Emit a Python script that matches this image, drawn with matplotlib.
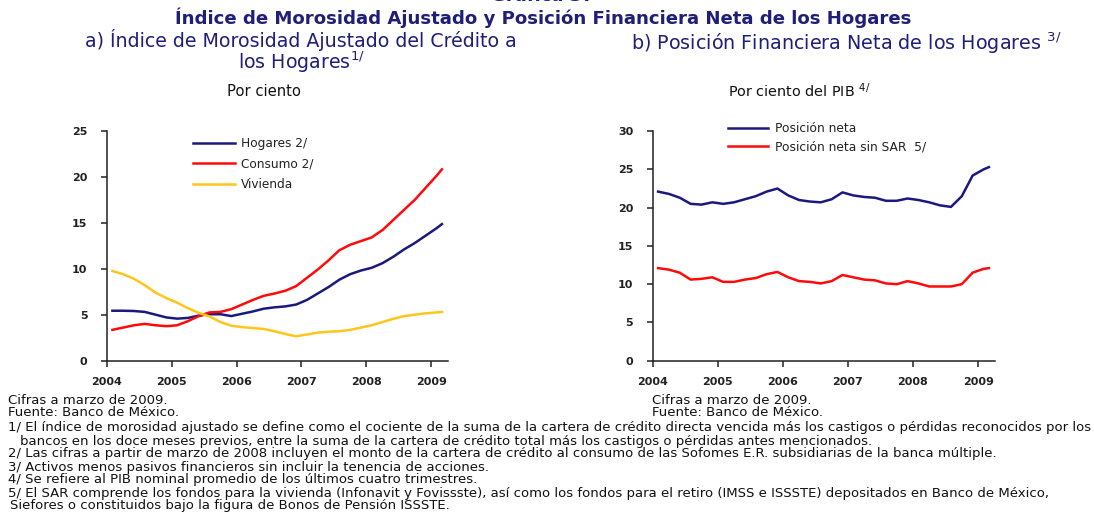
import matplotlib.pyplot as plt

plt.rcParams['font.family'] = ['DejaVu Sans']

# bimonthly dates (feb 2004 - mar 2009) as decimal years
meses = [(a, m) for a in range(2004, 2009) for m in (2, 4, 6, 8, 10, 12)] + [(2009, 2), (2009, 3)]
fechas = [a + (m - 1) / 12 for a, m in meses]

# a) indice de morosidad ajustado (por ciento)
hogares = [5.43, 5.43, 5.40, 5.3, 5.0, 4.7, 4.57, 4.65, 4.9, 5.05, 5.05, 4.85,
           5.1, 5.35, 5.65, 5.8, 5.9, 6.1, 6.6, 7.3, 8.0, 8.8, 9.4, 9.8,
           10.1, 10.6, 11.3, 12.1, 12.8, 13.6, 14.4, 14.85]
consumo = [3.35, 3.6, 3.85, 4.0, 3.85, 3.75, 3.85, 4.3, 4.85, 5.25, 5.3, 5.6,
           6.1, 6.6, 7.05, 7.3, 7.6, 8.1, 9.0, 9.9, 10.9, 12.0, 12.6, 13.0,
           13.4, 14.2, 15.3, 16.4, 17.5, 18.8, 20.1, 20.8]
vivienda = [9.75, 9.4, 8.9, 8.2, 7.4, 6.8, 6.3, 5.7, 5.2, 4.8, 4.2, 3.8,
            3.65, 3.55, 3.45, 3.2, 2.9, 2.65, 2.85, 3.05, 3.15, 3.2, 3.35, 3.6,
            3.85, 4.2, 4.55, 4.85, 5.0, 5.15, 5.25, 5.3]

# b) posicion financiera neta (por ciento del PIB)
pos_neta = [22.1, 21.8, 21.3, 20.5, 20.4, 20.7, 20.5, 20.7, 21.1, 21.5, 22.1, 22.5,
            21.6, 21.0, 20.8, 20.7, 21.1, 22.0, 21.6, 21.4, 21.3, 20.9, 20.9, 21.2,
            21.0, 20.7, 20.3, 20.1, 21.5, 24.2, 25.0, 25.3]
pos_sin_sar = [12.1, 11.9, 11.5, 10.6, 10.7, 10.9, 10.3, 10.3, 10.6, 10.8, 11.3, 11.6,
               10.9, 10.4, 10.3, 10.1, 10.4, 11.2, 10.9, 10.6, 10.5, 10.1, 10.0, 10.4,
               10.1, 9.7, 9.7, 9.7, 10.0, 11.5, 12.0, 12.1]

años = [2004, 2005, 2006, 2007, 2008, 2009]

navy = '#1a1a7e'
rojo = '#ff0a0a'
amarillo = '#ffc61a'
titulo_c = '#1f1f78'

W, H = 1094, 516
fig = plt.figure(figsize=(W / 100, H / 100), dpi=100)

def estilo(ax, ymax, paso):
    ax.set_xlim(2004, 2009.26)
    ax.set_ylim(0, ymax)
    ax.set_xticks(años)
    ax.set_yticks(range(0, ymax + 1, paso))
    for s in ('top', 'right'):
        ax.spines[s].set_visible(False)
    for s in ('left', 'bottom'):
        ax.spines[s].set_linewidth(1.1)
        ax.spines[s].set_color('#222222')
    ax.tick_params(direction='out', length=4, width=1.1, color='#222222',
                   labelsize=8, labelcolor='#222222')
    ax.tick_params(axis='x', pad=8)
    ax.tick_params(axis='y', pad=10)
    for t in ax.get_xticklabels() + ax.get_yticklabels():
        t.set_fontweight('bold')

ax1 = fig.add_axes([0.0978, 0.301, 0.3117, 0.4457])
ax1.plot(fechas, hogares, color=navy, lw=1.8, label='Hogares 2/')
ax1.plot(fechas, consumo, color=rojo, lw=1.8, label='Consumo 2/')
ax1.plot(fechas, vivienda, color=amarillo, lw=1.8, label='Vivienda')
estilo(ax1, 25, 5)
leg1 = ax1.legend(loc='upper left', bbox_to_anchor=(187 / W, 1 - 131 / H),
                  bbox_transform=fig.transFigure, frameon=False, fontsize=8.7,
                  borderpad=0, handlelength=3.5, handletextpad=0.45, labelspacing=0.62)

ax2 = fig.add_axes([0.5966, 0.301, 0.3129, 0.4448])
ax2.plot(fechas, pos_neta, color=navy, lw=1.8, label='Posición neta')
ax2.plot(fechas, pos_sin_sar, color=rojo, lw=1.8, label='Posición neta sin SAR  5/')
estilo(ax2, 30, 5)
leg2 = ax2.legend(loc='upper left', bbox_to_anchor=(722 / W, 1 - 116 / H),
                  bbox_transform=fig.transFigure, frameon=False, fontsize=8.8,
                  borderpad=0, handlelength=3.3, handletextpad=0.5, labelspacing=0.45)
for leg in (leg1, leg2):
    for t in leg.get_texts():
        t.set_color('#222222')

# titulos
fig.text(543 / W, 1 - 1 / H, 'Gráfica 37', ha='center', va='baseline',
         fontsize=13, fontweight='bold', color=titulo_c)
fig.text(543 / W, 1 - 18 / H, 'Índice de Morosidad Ajustado y Posición Financiera Neta de los Hogares',
         ha='center', va='center', fontsize=13.1, fontweight='bold', color=titulo_c)
fig.text(301 / W, 1 - 52 / H,
         'a) Índice de Morosidad Ajustado del Crédito a\n' + r'los Hogares$^{\mathregular{1/}}$',
         ha='center', va='center', fontsize=13.7, color=titulo_c, linespacing=0.92)
fig.text(846 / W, 1 - 43 / H, r'b) Posición Financiera Neta de los Hogares $^{\mathregular{3/}}$',
         ha='center', va='center', fontsize=13.8, color=titulo_c)
fig.text(264 / W, 1 - 91 / H, 'Por ciento', ha='center', va='center',
         fontsize=10.6, color='#111111')
fig.text(799 / W, 1 - 91 / H, r'Por ciento del PIB $^{\mathregular{4/}}$', ha='center', va='center',
         fontsize=10.4, color='#111111')

# notas
notas = [
    (8, 401, 'Cifras a marzo de 2009.'),
    (8, 413, 'Fuente: Banco de México.'),
    (8, 428, '1/ El índice de morosidad ajustado se define como el cociente de la suma de la cartera de crédito directa vencida más los castigos o pérdidas reconocidos por los'),
    (20, 441, 'bancos en los doce meses previos, entre la suma de la cartera de crédito total más los castigos o pérdidas antes mencionados.'),
    (8, 454, '2/ Las cifras a partir de marzo de 2008 incluyen el monto de la cartera de crédito al consumo de las Sofomes E.R. subsidiarias de la banca múltiple.'),
    (8, 467, '3/ Activos menos pasivos financieros sin incluir la tenencia de acciones.'),
    (8, 480, '4/ Se refiere al PIB nominal promedio de los últimos cuatro trimestres.'),
    (8, 493, '5/ El SAR comprende los fondos para la vivienda (Infonavit y Fovissste), así como los fondos para el retiro (IMSS e ISSSTE) depositados en Banco de México,'),
    (10, 506, 'Siefores o constituidos bajo la figura de Bonos de Pensión ISSSTE.'),
    (652, 401, 'Cifras a marzo de 2009.'),
    (652, 413, 'Fuente: Banco de México.'),
]
for x, y, t in notas:
    fig.text(x / W, 1 - y / H, t, ha='left', va='center', fontsize=9.55, color='#111111')

fig.savefig('out.png', dpi=100)
